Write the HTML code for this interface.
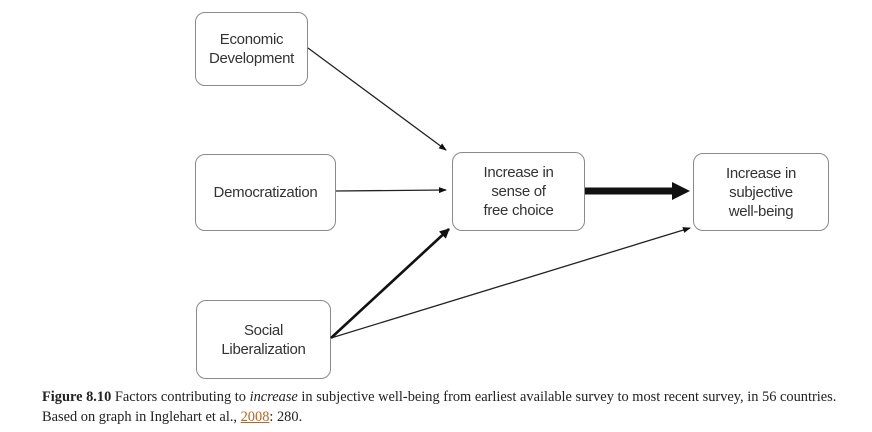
<!DOCTYPE html>
<html><head><meta charset="utf-8"><style>
html,body{margin:0;padding:0;background:#fff;width:872px;height:432px;overflow:hidden;position:relative}
.b{position:absolute;border:1.5px solid #8a8a8a;border-radius:10px;box-sizing:border-box;display:flex;align-items:center;justify-content:center;text-align:center;font-family:"Liberation Sans",sans-serif;font-size:15px;color:#333;line-height:19px;letter-spacing:-0.3px}
.cap{position:absolute;left:42px;font-family:"Liberation Serif",serif;font-size:14.4px;color:#222;white-space:nowrap}
</style></head><body>
<div class="b" style="left:195px;top:12px;width:113px;height:74px">Economic<br>Development</div>
<div class="b" style="left:195px;top:154px;width:141px;height:77px">Democratization</div>
<div class="b" style="left:196px;top:300px;width:135px;height:79px">Social<br>Liberalization</div>
<div class="b" style="left:452px;top:152px;width:133px;height:79px">Increase in<br>sense of<br>free choice</div>
<div class="b" style="left:693px;top:153px;width:136px;height:78px">Increase in<br>subjective<br>well-being</div>
<svg width="872" height="432" style="position:absolute;left:0;top:0">
<defs>
<marker id="a" markerWidth="8" markerHeight="6" refX="7" refY="3" orient="auto" markerUnits="userSpaceOnUse"><path d="M0,0L8,3L0,6z" fill="#111"/></marker>
<marker id="t" markerWidth="10" markerHeight="10" refX="9" refY="5" orient="auto" markerUnits="userSpaceOnUse"><path d="M0,0L10,5L0,10z" fill="#111"/></marker>
</defs>
<line x1="308" y1="48" x2="446" y2="150" stroke="#222" stroke-width="1.3" marker-end="url(#a)"/>
<line x1="336" y1="191" x2="446" y2="190" stroke="#222" stroke-width="1.3" marker-end="url(#a)"/>
<line x1="331" y1="338" x2="449" y2="229" stroke="#111" stroke-width="2.6" marker-end="url(#t)"/>
<line x1="331" y1="338" x2="690" y2="228" stroke="#222" stroke-width="1.3" marker-end="url(#a)"/>
<line x1="585" y1="191" x2="674" y2="191" stroke="#111" stroke-width="7"/>
<path d="M672,182L690,191L672,200z" fill="#111"/>
</svg>
<div class="cap" style="top:389px"><b>Figure 8.10</b> Factors contributing to <i>increase</i> in subjective well-being from earliest available survey to most recent survey, in 56 countries.</div>
<div class="cap" style="top:409px">Based on graph in Inglehart et al., <span style="color:#c0641e;text-decoration:underline">2008</span>: 280.</div>
</body></html>
